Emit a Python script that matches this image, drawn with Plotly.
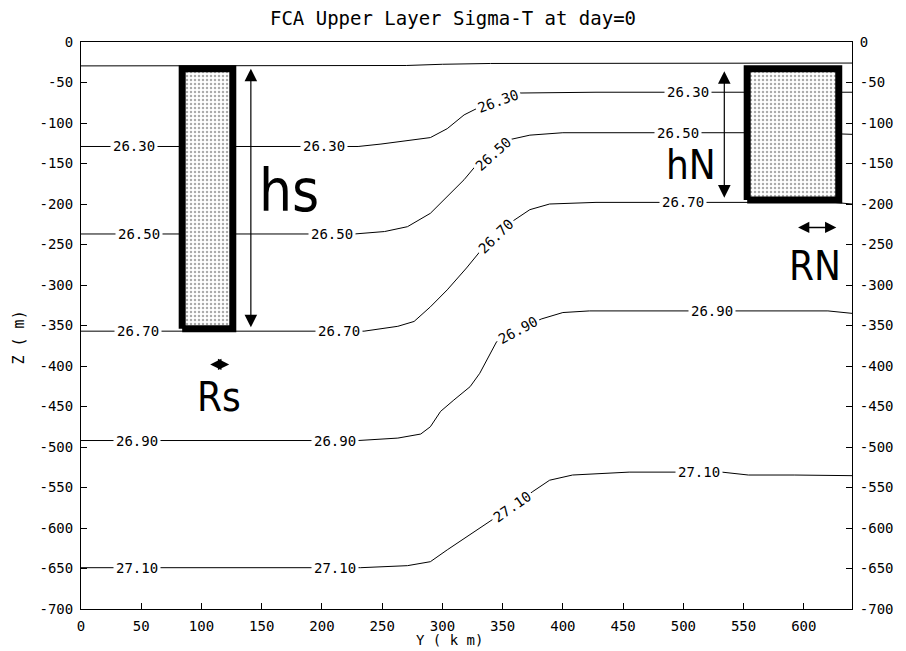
import plotly.graph_objects as go

# ---- sigma-t isolines: along-channel distance Y (km) and depth Z (m) ----
upper_y = [0, 240, 270, 300, 340, 640]
upper_z = [-29.5, -29.5, -29, -27.5, -26.5, -26]

s2630_y = [0, 230, 249, 271, 290, 304, 318, 330, 346.5, 364, 427.5, 640]
s2630_z = [-129, -129, -126, -122, -118, -107, -90, -81, -72.5, -63, -62, -62]

s2650_y = [0, 227, 252, 271, 290, 304, 318, 327, 342, 357.5, 372.6, 400, 600, 640]
s2650_z = [-237, -237, -234, -228, -211.5, -191, -170, -154, -138, -120, -115, -112, -112, -114]

s2670_y = [0, 235, 263, 276.5, 290, 304, 320, 331, 344.6, 359, 372.6, 389, 427.5, 625, 640]
s2670_z = [-357, -357, -351, -345, -327, -306, -279, -259, -240, -220.5, -207, -200, -198, -198, -200]

s2690_y = [0, 230, 263, 282, 290, 298.5, 309.5, 323, 331, 338, 345, 363, 382, 400, 422, 620, 640]
s2690_z = [-492, -492, -489, -484, -475, -456, -442, -425.5, -409, -388.5, -370, -355.6, -342, -334, -332, -332, -335]

s2710_y = [0, 232, 271, 290, 304, 318, 339.6, 357.5, 375, 389, 408, 455, 532, 554, 592, 640]
s2710_z = [-649, -649, -646.5, -641.6, -627, -613, -592, -573.7, -555, -541, -534.6, -531, -531, -534.6, -534.6, -535.4]

isolines = [
    (upper_y, upper_z),
    (s2630_y, s2630_z),
    (s2650_y, s2650_z),
    (s2670_y, s2670_z),
    (s2690_y, s2690_z),
    (s2710_y, s2710_z),
]

# contour labels: text, Y (km), Z (m), text angle (deg)
label_text = ["26.30", "26.30", "26.30", "26.30",
              "26.50", "26.50", "26.50", "26.50",
              "26.70", "26.70", "26.70", "26.70",
              "26.90", "26.90", "26.90", "26.90",
              "27.10", "27.10", "27.10", "27.10"]
label_y = [43.7, 202, 346.5, 503.7,
           47.8, 208.5, 342, 495.5,
           47, 214, 344.6, 500,
           46.5, 210.6, 363, 523.6,
           46.5, 210.6, 357.5, 513]
label_z = [-129, -129, -72.5, -62,
           -237, -237, -138, -112,
           -357, -357, -240, -198,
           -492, -492, -355.6, -332,
           -649, -649, -573.7, -531]
label_angle = [0, 0, -20, 0,
               0, 0, -42, 0,
               0, 0, -44, 0,
               0, 0, -28, 0,
               0, 0, -35, 0]

# southern (S) and northern (N) boxes: Y range (km), Z range (m)
box_s_y = [84, 126]
box_s_z = [-354, -33]
box_n_y = [553, 629]
box_n_z = [-195, -33]

# axes
x_ticks = [0, 50, 100, 150, 200, 250, 300, 350, 400, 450, 500, 550, 600]
x_ticktext = [str(v) for v in x_ticks]
z_ticks = [0, -50, -100, -150, -200, -250, -300, -350, -400, -450, -500, -550, -600, -650, -700]
z_ticktext = [str(v) for v in z_ticks]

MONO = "DejaVu Sans Mono"
NARROW = "DejaVu Sans Condensed, Liberation Sans Narrow, Arial Narrow, sans-serif"

fig = go.Figure()

for ys, zs in isolines:
    fig.add_trace(go.Scatter(x=ys, y=zs, mode="lines",
                             line=dict(color="black", width=1),
                             hoverinfo="skip", showlegend=False))

for (y0, y1), (z0, z1) in [(box_s_y, box_s_z), (box_n_y, box_n_z)]:
    fig.add_trace(go.Scatter(
        x=[y0, y1, y1, y0, y0], y=[z0, z0, z1, z1, z0],
        mode="lines", fill="toself",
        fillcolor="white",
        fillpattern=dict(shape=".", fgcolor="#555555", bgcolor="white",
                         size=4, solidity=0.3),
        line=dict(color="black", width=7),
        hoverinfo="skip", showlegend=False))

# invisible trace to carry the right-hand depth axis
fig.add_trace(go.Scatter(x=[0], y=[0], yaxis="y2", mode="markers",
                         marker=dict(opacity=0), hoverinfo="skip", showlegend=False))

annotations = []
for t, xv, zv, ang in zip(label_text, label_y, label_z, label_angle):
    annotations.append(dict(x=xv, y=zv, text=t, showarrow=False, textangle=ang,
                            font=dict(family=MONO, size=14, color="black"),
                            bgcolor="white", borderpad=2,
                            xanchor="center", yanchor="middle"))

# hs and hN: vertical double arrows
arrow_common = dict(text="", showarrow=True, axref="x", ayref="y",
                    arrowside="end+start", arrowhead=2, arrowcolor="black",
                    standoff=0, startstandoff=0)
annotations.append(dict(x=141, y=-33, ax=141, ay=-354,
                        arrowsize=2.1, arrowwidth=1.2, startarrowhead=2,
                        startarrowsize=2.1, **arrow_common))
annotations.append(dict(x=534, y=-36, ax=534, ay=-194,
                        arrowsize=2.1, arrowwidth=1.2, startarrowhead=2,
                        startarrowsize=2.1, **arrow_common))
# Rs and RN: horizontal double arrows
annotations.append(dict(x=123, y=-398, ax=106, ay=-398,
                        arrowsize=1.5, arrowwidth=1.5, startarrowhead=2,
                        startarrowsize=1.5, **arrow_common))
annotations.append(dict(x=627, y=-229, ax=594, ay=-229,
                        arrowsize=1.5, arrowwidth=1.5, startarrowhead=2,
                        startarrowsize=1.5, **arrow_common))

big_labels = [("hs", 173, -184, 58), ("hN", 506, -152, 40),
              ("Rs", 114.5, -438, 40), ("RN", 609, -276, 40)]
for t, xv, zv, sz in big_labels:
    annotations.append(dict(x=xv, y=zv, text=t, showarrow=False,
                            font=dict(family=NARROW, size=sz, color="black"),
                            xanchor="center", yanchor="middle"))

# axis titles
annotations.append(dict(xref="paper", yref="paper", x=-0.081, y=0.478, text="Z ( m)",
                        textangle=-90, showarrow=False,
                        xanchor="center", yanchor="middle",
                        font=dict(family=MONO, size=15, color="black")))
annotations.append(dict(xref="paper", yref="paper", x=0.478, y=-0.054, text="Y ( k m)",
                        showarrow=False, xanchor="center", yanchor="middle",
                        font=dict(family=MONO, size=14, color="black")))

axis_common = dict(showline=True, linecolor="black", linewidth=1,
                   showgrid=False, zeroline=False,
                   ticks="inside", ticklen=6, tickcolor="black", tickwidth=1,
                   tickfont=dict(family=MONO, size=14, color="black"))

fig.update_layout(
    width=906, height=651,
    margin=dict(l=81, r=48, t=42, b=42),
    paper_bgcolor="white", plot_bgcolor="white",
    title=dict(text="FCA Upper Layer Sigma-T at day=0", x=0.5, xanchor="center",
               y=0.972, yanchor="middle", xref="container", yref="container",
               font=dict(family=MONO, size=19, color="black")),
    xaxis=dict(range=[0, 640], tickvals=x_ticks, ticktext=x_ticktext,
               mirror=True, ticklabelstandoff=4, **axis_common),
    yaxis=dict(range=[-700, 0], tickvals=z_ticks, ticktext=z_ticktext,
               ticklabelstandoff=4, **axis_common),
    yaxis2=dict(range=[-700, 0], tickvals=z_ticks, ticktext=z_ticktext,
                overlaying="y", side="right", ticklabelstandoff=4, **axis_common),
    annotations=annotations,
    showlegend=False,
)

fig.write_html("out.html")
